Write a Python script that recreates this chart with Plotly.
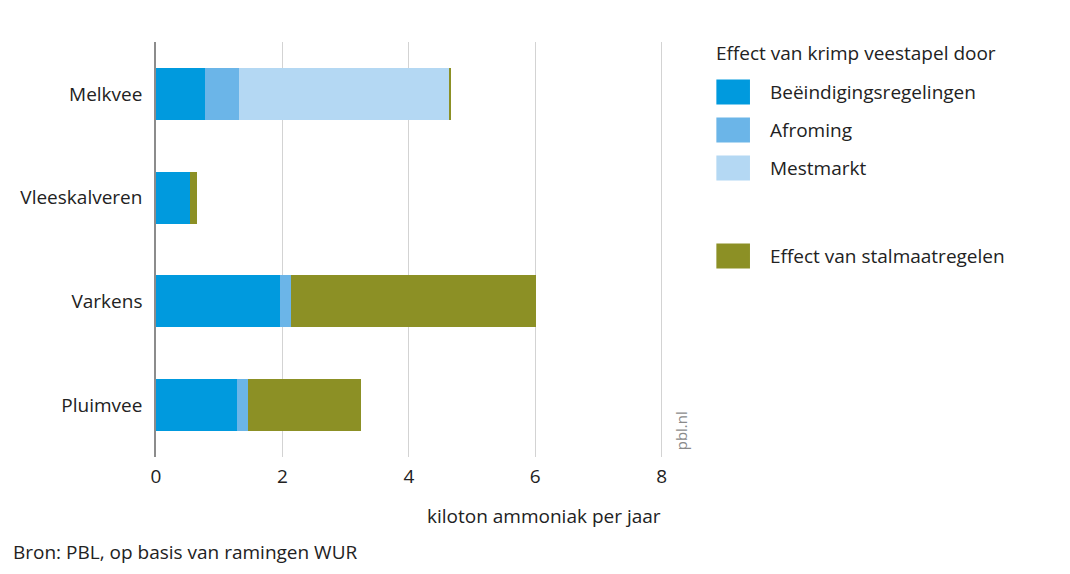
import plotly.graph_objects as go

# ---- data (kiloton ammoniak per jaar) ----
sectors = ["Melkvee", "Vleeskalveren", "Varkens", "Pluimvee"]
beeindiging = [0.77, 0.54, 1.96, 1.28]
afroming = [0.54, 0.00, 0.18, 0.18]
mestmarkt = [3.34, 0.00, 0.00, 0.00]
stal = [0.02, 0.11, 3.87, 1.78]

series_names = ["Beëindigingsregelingen", "Afroming", "Mestmarkt", "Effect van stalmaatregelen"]
series_values = [beeindiging, afroming, mestmarkt, stal]
colors = ["#009ADE", "#6BB5E8", "#B4D8F3", "#8C9025"]

x_ticks = [0, 2, 4, 6, 8]

FONT = "Open Sans"
TEXT = "#222222"
FS = 19

fig = go.Figure()

for name, vals, col in zip(series_names, series_values, colors):
    fig.add_trace(
        go.Bar(
            y=sectors,
            x=vals,
            name=name,
            orientation="h",
            width=0.5,
            marker=dict(color=col, line=dict(width=0)),
            showlegend=False,
        )
    )

# ---- hand-drawn legend on the right ----
# page pixels -> paper coords (plot area is x 150..663, y 42..457 on the page)
px_w, px_h = 513.0, 415.0
def py(p):
    return (457 - p) / px_h

def pxx(p):
    return (p - 150) / px_w

shapes = []
annotations = []
legend_rows = [92, 130, 168, 256]
for name, col, yc in zip(series_names, colors, legend_rows):
    shapes.append(dict(
        type="rect", xref="paper", yref="paper",
        x0=pxx(717), x1=pxx(751), y0=py(yc + 12.5), y1=py(yc - 12.5),
        fillcolor=col, line=dict(width=0),
    ))
    annotations.append(dict(
        text=name, xref="paper", yref="paper",
        x=pxx(769), y=py(yc), xanchor="left", yanchor="middle",
        showarrow=False, font=dict(family=FONT, size=FS, color=TEXT),
    ))

annotations.append(dict(
    text="Effect van krimp veestapel door", xref="paper", yref="paper",
    x=pxx(715), y=py(53), xanchor="left", yanchor="middle",
    showarrow=False, font=dict(family=FONT, size=FS, color=TEXT),
))

# axis title, source and watermark
annotations.append(dict(
    text="kiloton ammoniak per jaar", xref="paper", yref="paper",
    x=1, y=py(516), xanchor="right", yanchor="middle",
    showarrow=False, font=dict(family=FONT, size=FS, color=TEXT),
))
annotations.append(dict(
    text="Bron: PBL, op basis van ramingen WUR", xref="paper", yref="paper",
    x=pxx(3), y=py(552), xanchor="left", yanchor="middle",
    showarrow=False, font=dict(family=FONT, size=FS, color=TEXT),
))
annotations.append(dict(
    text="pbl.nl", xref="paper", yref="paper", textangle=-90,
    x=pxx(681), y=py(452), xanchor="center", yanchor="bottom",
    showarrow=False, font=dict(family=FONT, size=15, color="#8a8a8a"),
))

# page body has an 8px margin, so shrink the figure by that much
fig.update_layout(
    width=1062,
    height=566,
    margin=dict(l=142, r=407, t=34, b=117),
    barmode="stack",
    bargap=0.5,
    plot_bgcolor="white",
    paper_bgcolor="white",
    font=dict(family=FONT, size=FS, color=TEXT),
    shapes=shapes,
    annotations=annotations,
)

fig.update_xaxes(
    range=[0, 8.02],
    tickvals=x_ticks,
    ticktext=[str(t) for t in x_ticks],
    showgrid=True,
    gridcolor="#d3d3d3",
    gridwidth=1,
    zeroline=False,
    showline=False,
    ticks="",
    ticklabelstandoff=6,
    tickfont=dict(size=FS, color=TEXT),
)
fig.update_yaxes(
    autorange="reversed",
    showgrid=False,
    showline=True,
    linecolor="#8c8c8c",
    linewidth=1.5,
    ticks="",
    ticklabelstandoff=8,
    tickfont=dict(size=FS, color=TEXT),
)

fig.write_html("out.html")
